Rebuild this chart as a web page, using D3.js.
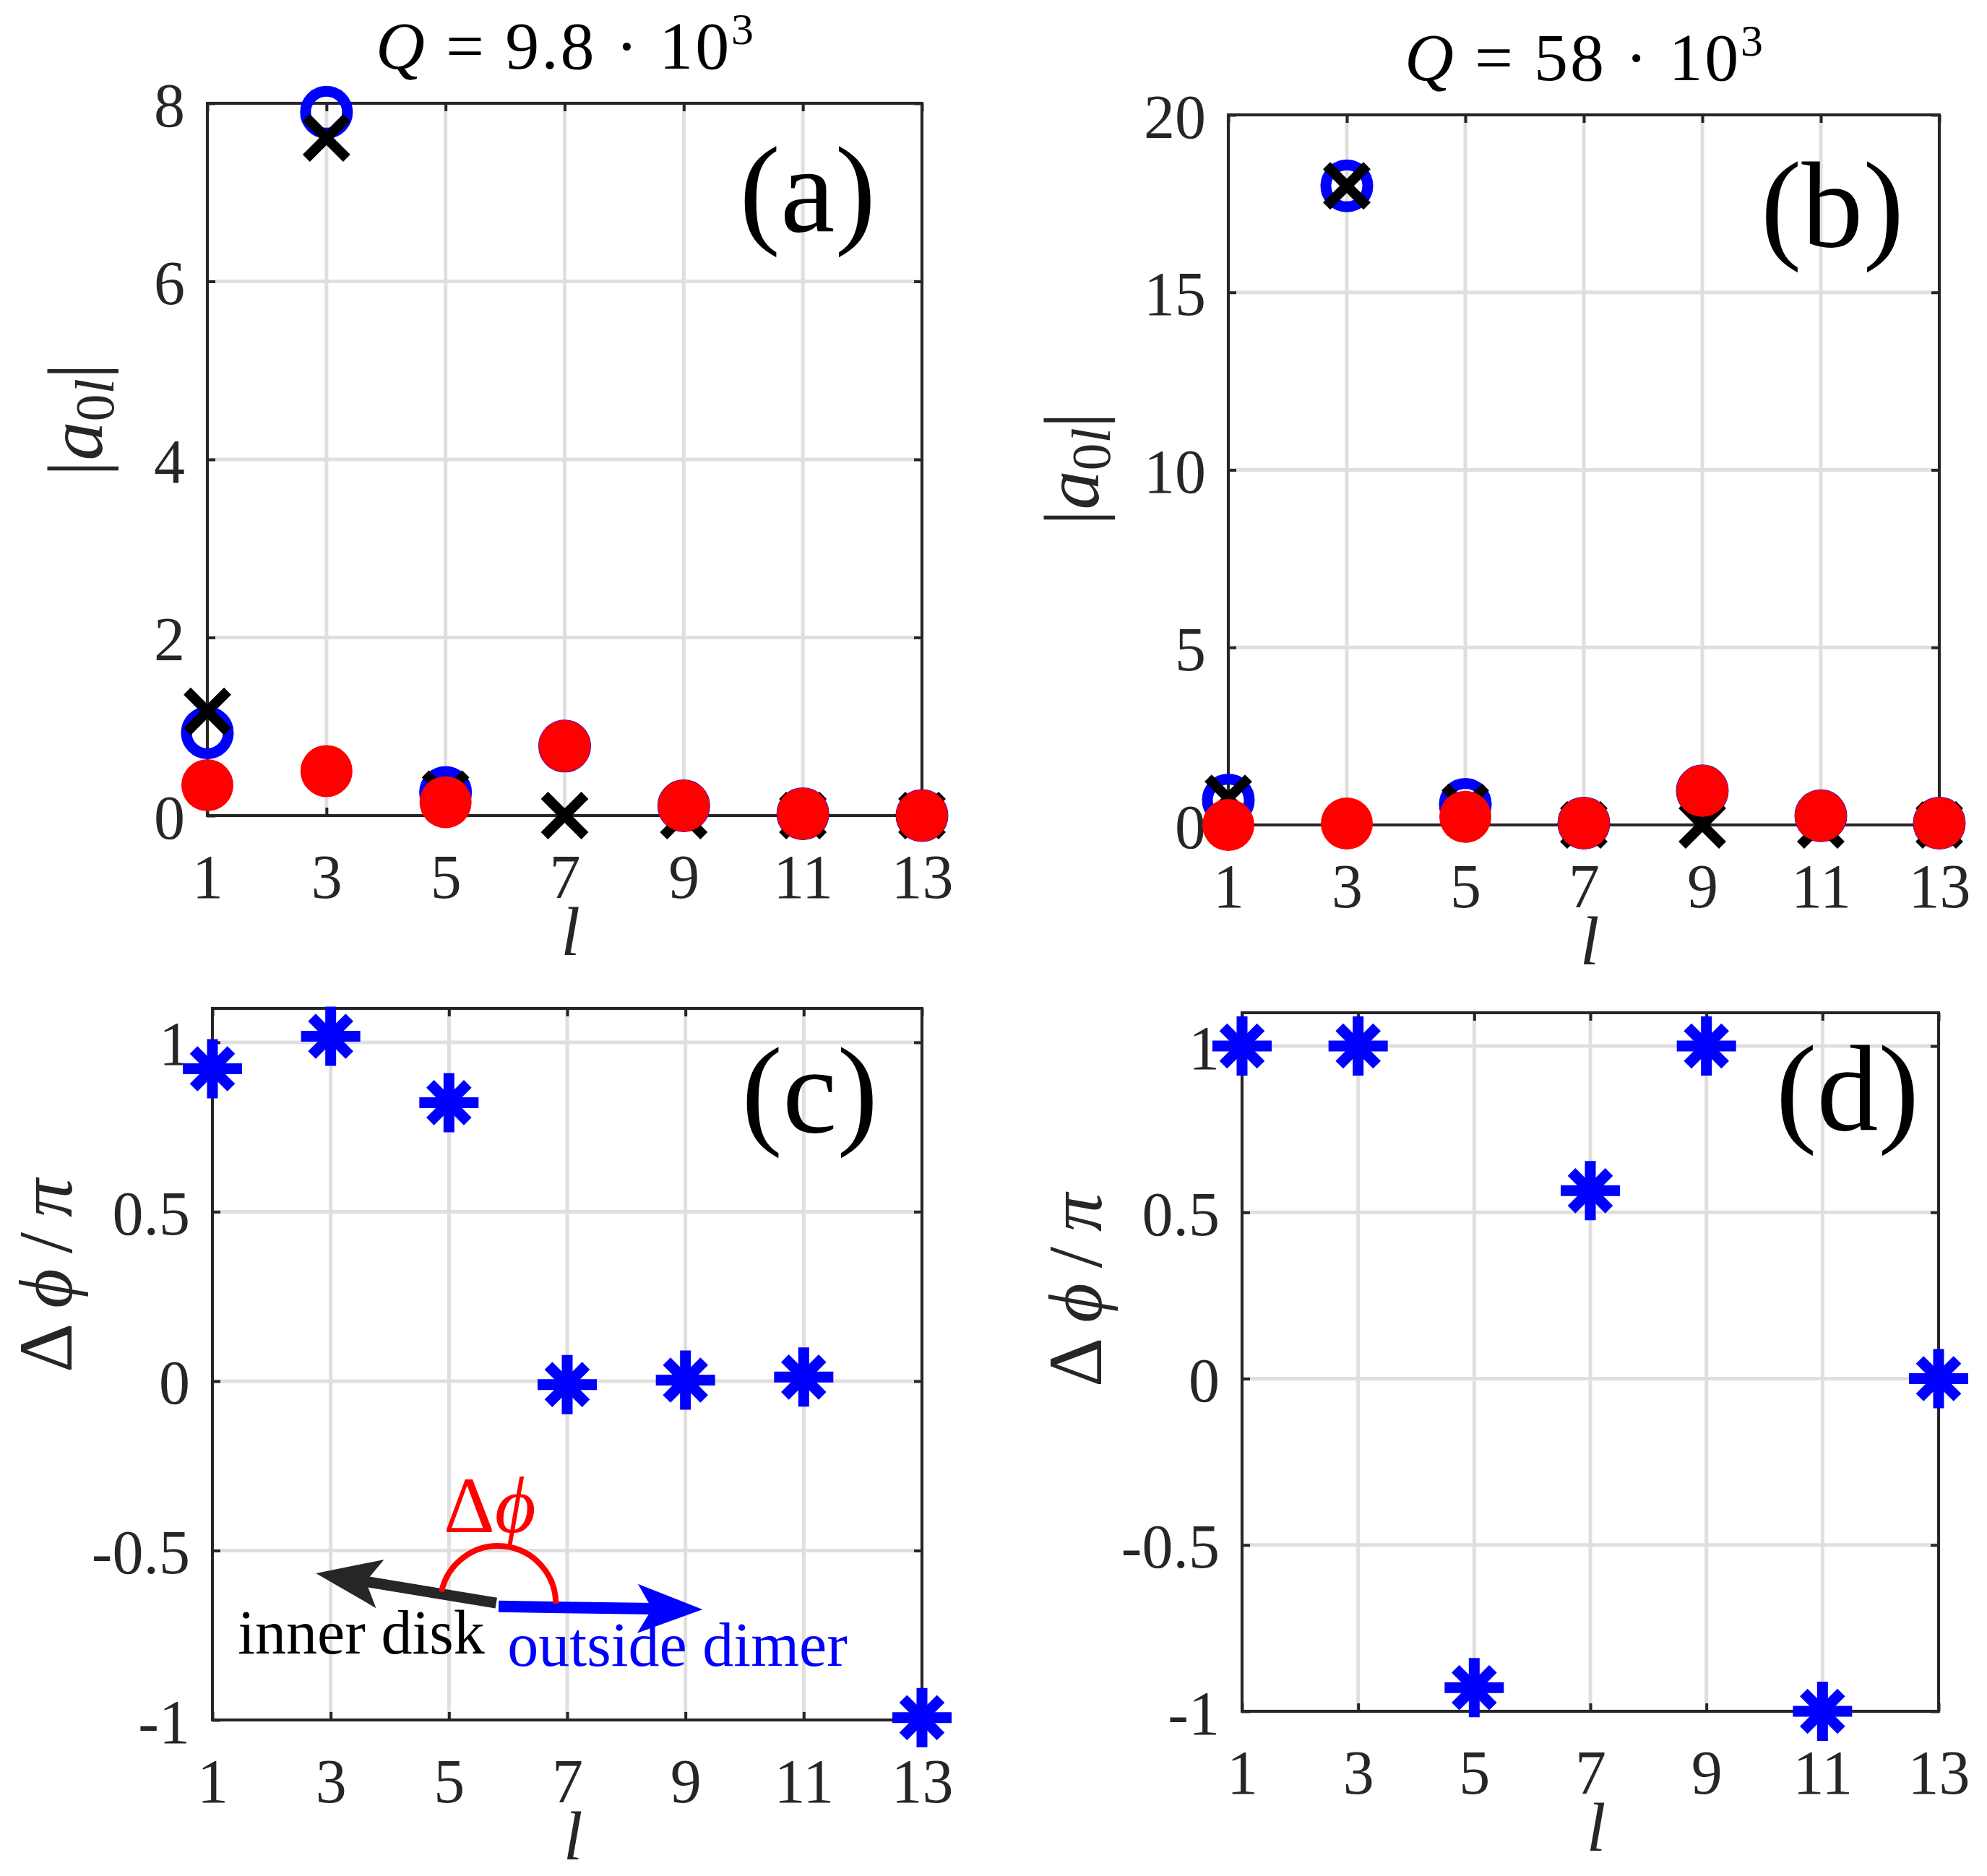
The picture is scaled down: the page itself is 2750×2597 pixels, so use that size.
<!DOCTYPE html>
<html><head><meta charset="utf-8">
<script src="https://cdn.jsdelivr.net/npm/d3@7/dist/d3.min.js"></script>
<style>body{margin:0;background:#fff}svg{display:block}</style>
</head><body>
<script>
// ---------------- data ----------------
const lValues = [1, 3, 5, 7, 9, 11, 13];
const xTicks = [1, 3, 5, 7, 9, 11, 13];

// panel (a): Q = 9.8e3
const ampBlueA  = [0.93, 7.90, 0.26, 0.78, 0.11, 0.02, 0.00];
const ampBlackA = [1.17, 7.61, 0.24, 0.00, 0.00, 0.00, 0.00];
const ampRedA   = [0.34, 0.50, 0.15, 0.78, 0.11, 0.02, 0.00];
// panel (b): Q = 58e3
const ampBlueB  = [0.70, 18.0, 0.58, 0.05, 0.96, 0.26, 0.05];
const ampBlackB = [0.75, 18.0, 0.50, 0.00, 0.00, 0.00, 0.00];
const ampRedB   = [0.00, 0.04, 0.23, 0.05, 0.96, 0.26, 0.05];
// panels (c), (d): phase difference / pi
const phaseC = [0.922, 1.018, 0.822, -0.010, 0.003, 0.012, -0.993];
const phaseD = [1.000, 1.000, -0.929, 0.565, 1.000, -1.000, 0.000];

const yTicksA = [0, 2, 4, 6, 8];
const yTicksB = [0, 5, 10, 15, 20];
const yTicksPhase = [-1, -0.5, 0, 0.5, 1];

// ---------------- layout ----------------
const W = 2750, H = 2597;
const AX = '#262626', GRID = '#dfdfdf', BLUE = '#0000ff', RED = '#ff0000';
const FONT = "'Liberation Serif','Times New Roman',serif";

const svg = d3.select('body').append('svg').attr('width', W).attr('height', H);

const panels = [
  {key:'a', box:{l:287, t:143, r:1276, b:1129}, ydom:[0,8], yticks:yTicksA,
   lab:{dx:64, dy:177}, yl:{x:141, y:581, kind:'amp'}, title:{parts:['9.8'], len:523}},
  {key:'b', box:{l:1700, t:159, r:2684, b:1142}, ydom:[0,20], yticks:yTicksB,
   lab:{dx:49, dy:182}, yl:{x:1520, y:649, kind:'amp'}, title:{parts:['58'], len:496}},
  {key:'c', box:{l:294, t:1396, r:1276, b:2381}, ydom:[-1,1.1], yticks:yTicksPhase,
   lab:{dx:61, dy:171}, yl:{x:99, y:1766, kind:'phase'}},
  {key:'d', box:{l:1719, t:1402, r:2683, b:2369}, ydom:[-1,1.1], yticks:yTicksPhase,
   lab:{dx:27, dy:162}, yl:{x:1524, y:1786, kind:'phase'}}
];

function styleAxis(g) {
  g.select('.domain').remove();
  g.selectAll('.tick line').attr('stroke', AX).attr('stroke-width', 4);
  g.selectAll('.tick text').attr('fill', AX).style('font-family', FONT).style('font-size', '86px');
}

function drawFrame(p) {
  const b = p.box;
  const x = d3.scaleLinear().domain([1, 13]).range([b.l, b.r]);
  const y = d3.scaleLinear().domain(p.ydom).range([b.b, b.t]);
  const g = svg.append('g');
  // grid
  g.selectAll('.gx').data(xTicks).enter().append('line')
    .attr('x1', d => x(d)).attr('x2', d => x(d)).attr('y1', b.t).attr('y2', b.b)
    .attr('stroke', GRID).attr('stroke-width', 5);
  g.selectAll('.gy').data(p.yticks).enter().append('line')
    .attr('y1', d => y(d)).attr('y2', d => y(d)).attr('x1', b.l).attr('x2', b.r)
    .attr('stroke', GRID).attr('stroke-width', 5);
  // axes (inward ticks on all sides)
  const fmt = d => String(d);
  const gb = g.append('g').attr('transform', `translate(0,${b.b})`)
    .call(d3.axisBottom(x).tickValues(xTicks).tickSize(-11).tickFormat(fmt));
  styleAxis(gb);
  gb.selectAll('.tick text').attr('y', 114).attr('dy', null);
  const gt = g.append('g').attr('transform', `translate(0,${b.t})`)
    .call(d3.axisTop(x).tickValues(xTicks).tickSize(-11).tickFormat(''));
  styleAxis(gt);
  const gl = g.append('g').attr('transform', `translate(${b.l},0)`)
    .call(d3.axisLeft(y).tickValues(p.yticks).tickSize(-11).tickFormat(fmt));
  styleAxis(gl);
  gl.selectAll('.tick text').attr('x', -31).attr('y', 31).attr('dy', null);
  const gr = g.append('g').attr('transform', `translate(${b.r},0)`)
    .call(d3.axisRight(y).tickValues(p.yticks).tickSize(-11).tickFormat(''));
  styleAxis(gr);
  g.append('rect').attr('x', b.l).attr('y', b.t).attr('width', b.r - b.l).attr('height', b.b - b.t)
    .attr('fill', 'none').attr('stroke', AX).attr('stroke-width', 4);

  // panel letter
  svg.append('text').attr('x', b.r - p.lab.dx).attr('y', b.t + p.lab.dy)
    .attr('text-anchor', 'end').attr('fill', '#000')
    .style('font-family', FONT).style('font-size', '170px').text(`(${p.key})`);

  // x label
  svg.append('text').attr('x', (b.l + b.r) / 2 + 8).attr('y', b.b + 193)
    .attr('text-anchor', 'middle').attr('fill', AX)
    .style('font-family', FONT).style('font-size', '96px').style('font-style', 'italic').text('l');

  // y label
  const yl = svg.append('text').attr('transform', `translate(${p.yl.x},${p.yl.y}) rotate(-90)`)
    .attr('text-anchor', 'middle').attr('fill', AX)
    .style('font-family', FONT);
  if (p.yl.kind === 'amp') {
    yl.style('font-size', '108px');
    yl.append('tspan').text('|');
    yl.append('tspan').style('font-style', 'italic').text('a');
    yl.append('tspan').attr('dy', 16).style('font-size', '76px').text('0');
    yl.append('tspan').style('font-size', '76px').style('font-style', 'italic').text('l');
    yl.append('tspan').attr('dy', -16).text('|');
  } else {
    yl.style('font-size', '106px').attr('textLength', 268).attr('lengthAdjust', 'spacing');
    yl.append('tspan').text('Δ');
    yl.append('tspan').style('font-style', 'italic').text('ϕ');
    yl.append('tspan').text('/');
    yl.append('tspan').style('font-style', 'italic').text('π');
  }

  // title
  if (p.title) {
    const t = svg.append('text').attr('x', (b.l + b.r) / 2).attr('y', b.t - 48)
      .attr('text-anchor', 'middle').attr('fill', '#000')
      .attr('textLength', p.title.len).attr('lengthAdjust', 'spacing')
      .style('font-family', FONT).style('font-size', '94px');
    t.append('tspan').style('font-style', 'italic').text('Q');
    t.append('tspan').text(' = ' + p.title.parts[0] + ' · 10');
    t.append('tspan').attr('dy', -34).style('font-size', '62px').text('3');
  }
  return {x, y};
}

// ---------------- markers ----------------
function drawAmp(sc, blue, black, red) {
  const pts = (arr) => lValues.map((l, i) => ({l, v: arr[i]}));
  const g = svg.append('g');
  g.selectAll('.bc').data(pts(blue)).enter().append('circle')
    .attr('cx', d => sc.x(d.l)).attr('cy', d => sc.y(d.v)).attr('r', 29)
    .attr('fill', 'none').attr('stroke', BLUE).attr('stroke-width', 15);
  const cr = g.selectAll('.kx').data(pts(black)).enter().append('g')
    .attr('transform', d => `translate(${sc.x(d.l)},${sc.y(d.v)})`);
  cr.append('line').attr('x1', -28).attr('y1', -28).attr('x2', 28).attr('y2', 28)
    .attr('stroke', '#000').attr('stroke-width', 14);
  cr.append('line').attr('x1', -28).attr('y1', 28).attr('x2', 28).attr('y2', -28)
    .attr('stroke', '#000').attr('stroke-width', 14);
  g.selectAll('.rd').data(pts(red)).enter().append('circle')
    .attr('cx', d => sc.x(d.l)).attr('cy', d => sc.y(d.v)).attr('r', 36)
    .attr('fill', RED);
}
function drawStars(sc, arr) {
  const g = svg.append('g');
  const s = g.selectAll('.st').data(lValues.map((l, i) => ({l, v: arr[i]}))).enter().append('g')
    .attr('transform', d => `translate(${sc.x(d.l)},${sc.y(d.v)})`);
  const arms = [[-41,0,41,0],[0,-41,0,41],[-26,-26,26,26],[-26,26,26,-26]];
  arms.forEach(a => s.append('line').attr('x1', a[0]).attr('y1', a[1]).attr('x2', a[2]).attr('y2', a[3])
    .attr('stroke', BLUE).attr('stroke-width', 15));
}

const sA = drawFrame(panels[0]);
const sB = drawFrame(panels[1]);
const sC = drawFrame(panels[2]);
const sD = drawFrame(panels[3]);
drawAmp(sA, ampBlueA, ampBlackA, ampRedA);
drawAmp(sB, ampBlueB, ampBlackB, ampRedB);
drawStars(sC, phaseC);
drawStars(sD, phaseD);

// ---------------- annotation in (c), in data units of panel (c) ----------------
const arrowInner = {from:[5.80, -0.655], to:[2.75, -0.567], color:AX};
const arrowOuter = {from:[5.84, -0.665], to:[9.29, -0.674], color:BLUE};
const arcCenter = [5.83, -0.657];

function arrow(a, width) {
  const x0 = sC.x(a.from[0]), y0 = sC.y(a.from[1]);
  const x1 = sC.x(a.to[0]), y1 = sC.y(a.to[1]);
  const ang = Math.atan2(y1 - y0, x1 - x0);
  const len = Math.hypot(x1 - x0, y1 - y0);
  const g = svg.append('g').attr('transform', `translate(${x0},${y0}) rotate(${ang * 180 / Math.PI})`);
  g.append('line').attr('x1', 0).attr('y1', 0).attr('x2', len - 66).attr('y2', 0)
    .attr('stroke', a.color).attr('stroke-width', width);
  g.append('path').attr('d', `M${len},0 L${len - 90},${-34} L${len - 70},0 L${len - 90},${34} Z`)
    .attr('fill', a.color);
}
arrow(arrowInner, 15);
arrow(arrowOuter, 16);

{
  const cx = sC.x(arcCenter[0]), cy = sC.y(arcCenter[1]);
  const r = 80;
  const a0 = 0, a1 = 168 * Math.PI / 180;
  const p = d3.path();
  p.arc(cx, cy, r, -a0, -a1, true);
  svg.append('path').attr('d', p.toString()).attr('fill', 'none').attr('stroke', RED).attr('stroke-width', 8);
}
svg.append('text').attr('x', sC.x(4.91)).attr('y', sC.y(-0.446))
  .attr('fill', RED).style('font-family', FONT).style('font-size', '110px')
  .call(t => { t.append('tspan').text('Δ'); t.append('tspan').style('font-style', 'italic').text('ϕ'); });
svg.append('text').attr('x', sC.x(1.43)).attr('y', sC.y(-0.804))
  .attr('fill', '#000').style('font-family', FONT).style('font-size', '86px').text('inner disk');
svg.append('text').attr('x', sC.x(5.99)).attr('y', sC.y(-0.840))
  .attr('fill', BLUE).style('font-family', FONT).style('font-size', '86px').text('outside dimer');
</script>
</body></html>
